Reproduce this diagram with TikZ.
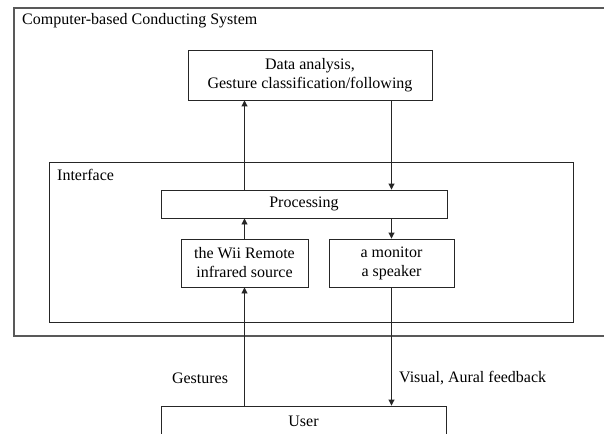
\documentclass[tikz,border=0pt]{standalone}
\usepackage{fontspec}
\setmainfont{Liberation Serif}
\usetikzlibrary{arrows.meta}
\begin{document}
\begin{tikzpicture}[x=1pt,y=-1pt,
  box/.style={draw=black!85, line width=0.9pt, rectangle, inner sep=0pt, align=center, font=\fontsize{16}{19}\selectfont},
  frame/.style={draw=black!65, line width=1.4pt},
  iframe/.style={draw=black!85, line width=0.9pt},
  title/.style={anchor=west, inner sep=0pt, font=\fontsize{16}{19}\selectfont},
  lbl/.style={inner sep=0pt, font=\fontsize{16}{19}\selectfont},
  conn/.style={draw=black!85, line width=0.9pt, -{Triangle[length=6pt,width=6pt]}}]
\useasboundingbox (0,0) rectangle (604,433);
\clip (0,0) rectangle (604,433);
% frames
\draw[frame] (14,8) rectangle (615,336);
\draw[iframe] (49,162) rectangle (573,322);
\node[title] (systitle) at (22,21) {Computer-based Conducting System};
\node[title] (iftitle) at (57,175) {Interface};
% boxes
\node[box, minimum width=244pt, minimum height=50pt] (data) at (310,75) {Data analysis,\\Gesture classification/following};
\node[box, minimum width=286pt, minimum height=28pt] (proc) at (304,204) {Processing};
\node[box, minimum width=127pt, minimum height=48pt] (wii) at (244.5,263) {the Wii Remote\\infrared source};
\node[box, minimum width=125pt, minimum height=48pt] (mon) at (391.5,263) {a monitor\\a speaker};
\node[box, minimum width=285pt, minimum height=30pt] (user) at (303.5,421) {User};
% labels
\node[lbl] (gest) at (200,378) {Gestures};
\node[lbl, anchor=west] (fb) at (399,378) {Visual, Aural feedback};
% connectors
\draw[conn] (user.north -| wii.south) -- (wii.south);
\draw[conn] (wii.north) -- (proc.south -| wii.north);
\draw[conn] (proc.north -| wii.north) -- (data.south -| wii.north);
\draw[conn] (data.south -| mon.north) -- (proc.north -| mon.north);
\draw[conn] (proc.south -| mon.north) -- (mon.north);
\draw[conn] (mon.south) -- (user.north -| mon.south);
\end{tikzpicture}
\end{document}
